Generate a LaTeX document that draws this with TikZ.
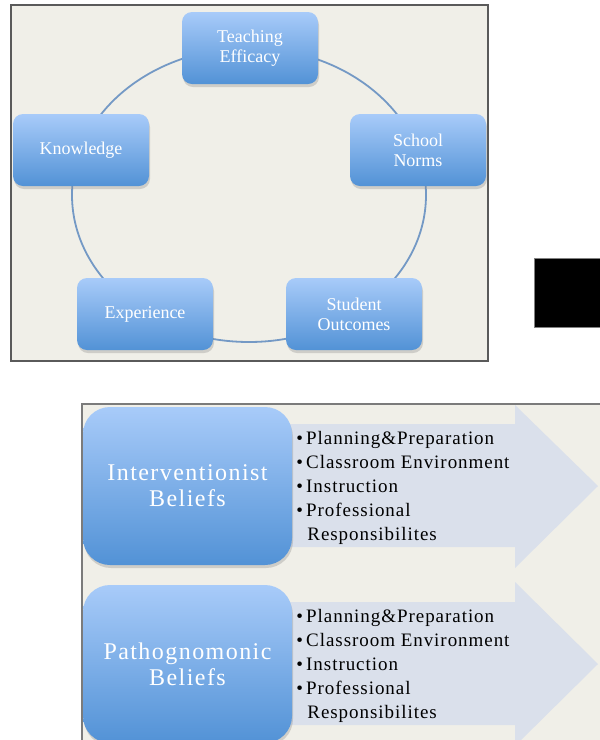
\documentclass[tikz,border=0pt]{standalone}
\usepackage{fontspec}
\setmainfont{Liberation Serif}
\newfontfamily\listfont[LetterSpace=5]{Liberation Serif}
\newfontfamily\beliefont[LetterSpace=6]{Liberation Serif}
\usetikzlibrary{shadows,positioning}
\definecolor{panelbg}{HTML}{F0EFE8}
\definecolor{panelline}{HTML}{5A5A5A}
\definecolor{ringblue}{HTML}{7499C5}
\definecolor{boxtop}{HTML}{A8CBF9}
\definecolor{boxbottom}{HTML}{5292D6}
\definecolor{arrowfill}{HTML}{DAE0EB}
\tikzset{
  panelbox/.style={fill=panelbg,draw=panelline,line width=1.5pt},
  ring/.style={draw=ringblue,line width=1.8pt},
  topic/.style={rounded corners=10pt,minimum width=136pt,minimum height=72pt,
    top color=boxtop,bottom color=boxbottom,text=white,align=center,
    font=\fontsize{18}{20}\selectfont,
    drop shadow={shadow xshift=1pt,shadow yshift=-3pt,opacity=0.3}},
  belief/.style={rounded corners=27pt,minimum width=209pt,minimum height=158pt,
    top color=boxtop,bottom color=boxbottom,text=white,align=center,
    font=\beliefont\fontsize{24}{26}\selectfont,
    drop shadow={shadow xshift=1pt,shadow yshift=-3pt,opacity=0.3}},
  items/.style={align=left,inner sep=0pt,font=\listfont\fontsize{19}{24}\selectfont},
  bigarrow/.style={fill=arrowfill}
}
\begin{document}
\begin{tikzpicture}[x=1pt,y=-1pt]
\useasboundingbox (0,0) rectangle (600,740);
\draw[panelbox] (11,5) rectangle (488,361);
\coordinate (hub) at (249,195);
\draw[ring] (hub) ellipse [x radius=177pt,y radius=147pt];
\node[topic] (efficacy) at (250,48) {Teaching\\Efficacy};
\node[topic] (norms) at (418,150) {School\\Norms};
\node[topic] (outcomes) at (354,314) {Student\\Outcomes};
\node[topic] (experience) at (145,314) {Experience};
\node[topic] (knowledge) at (81,150) {Knowledge};
\draw[fill=black,draw=gray] (534,258) rectangle (602,327);
\fill[panelbg] (82,404) rectangle (602,745);
\draw[draw=panelline!80,line width=1.5pt] (82,745) |- (602,404);
\fill[bigarrow] (250,424) -- (515,424) -- (515,405) -- (598,486) -- (515,568) -- (515,547) -- (250,547) -- cycle;
\fill[bigarrow] (250,602) -- (515,602) -- (515,582) -- (598,664) -- (515,746) -- (515,725) -- (250,725) -- cycle;
\node[belief] (interventionist) at (187.5,486) {Interventionist\\Beliefs};
\node[belief] (pathognomonic) at (187.5,664) {Pathognomonic\\Beliefs};
\node[items,below right=24pt and 4pt of interventionist.north east] (interventionistlist)
  {\textbullet\,Planning\&Preparation\\\textbullet\,Classroom Environment\\\textbullet\,Instruction\\\textbullet\,Professional\\\hspace*{11pt}Responsibilites};
\node[items,below right=24pt and 4pt of pathognomonic.north east] (pathognomoniclist)
  {\textbullet\,Planning\&Preparation\\\textbullet\,Classroom Environment\\\textbullet\,Instruction\\\textbullet\,Professional\\\hspace*{11pt}Responsibilites};
\end{tikzpicture}
\end{document}
